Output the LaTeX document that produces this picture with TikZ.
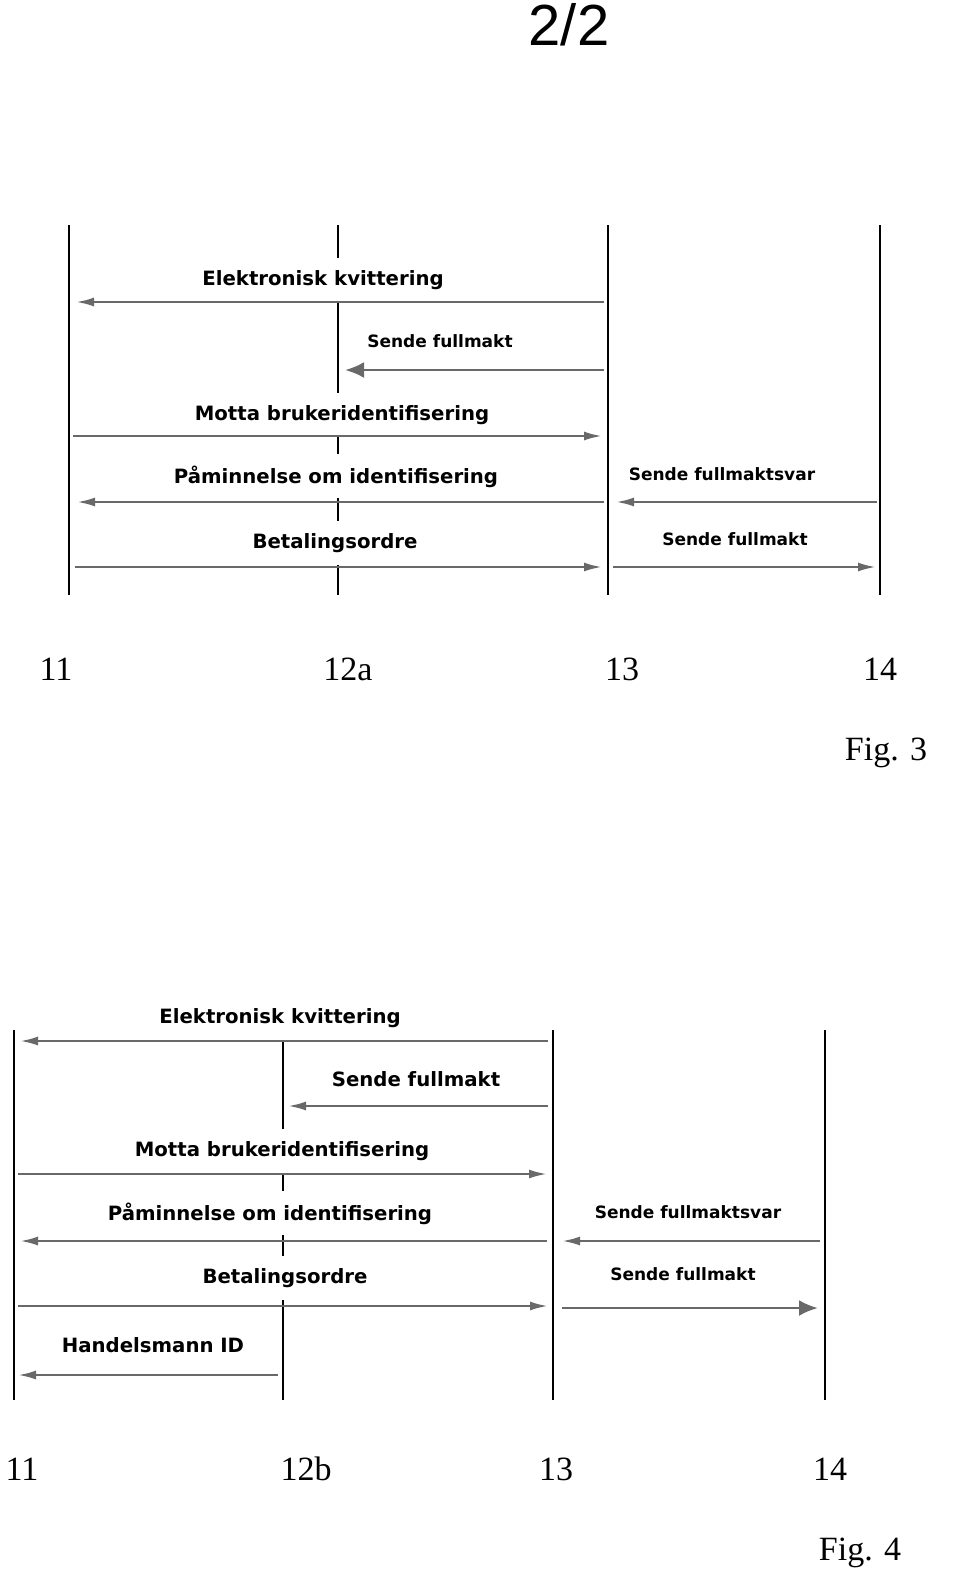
\documentclass[tikz,border=0pt]{standalone}
\usepackage{fontspec}
\setmainfont{Liberation Serif}
\newfontfamily\lblfont{DejaVu Sans}
\newfontfamily\pagefont{Liberation Sans}
\usetikzlibrary{arrows.meta}
\tikzset{>={Latex[length=18pt,width=9pt]}}
\definecolor{msggray}{RGB}{105,105,105}

\begin{document}
\begin{tikzpicture}[x=1pt,y=-1pt,
    lifeline/.style={line width=2.4pt},
    msg/.style={->,msggray,line width=2.4pt},
    bigmsg/.style={-{Latex[length=19pt,width=16pt]},msggray,line width=2.8pt},
    lbl/.style={fill=white,inner sep=0pt,minimum height=44pt,anchor=base,
      font=\lblfont\bfseries\fontsize{19.7}{22}\selectfont},
    lblsmall/.style={lbl,font=\lblfont\bfseries\fontsize{17}{20}\selectfont},
    num/.style={anchor=base,inner sep=0pt,font=\fontsize{34}{40}\selectfont}]
  \useasboundingbox (0,0) rectangle (960,1572);
  % page number
  \node[anchor=base,inner sep=0pt,font=\pagefont\fontsize{58}{66}\selectfont] (page) at (569,45) {2/2};

  % Fig. 3 lifelines
  \coordinate (a11t) at (69,225);  \coordinate (a11b) at (69,595);
  \coordinate (a12t) at (338,225); \coordinate (a12b) at (338,595);
  \coordinate (a13t) at (608,225); \coordinate (a13b) at (608,595);
  \coordinate (a14t) at (880,225); \coordinate (a14b) at (880,595);
  \draw [lifeline] (a11t) -- (a11b);
  \draw [lifeline] (a12t) -- (a12b);
  \draw [lifeline] (a13t) -- (a13b);
  \draw [lifeline] (a14t) -- (a14b);
  % Fig. 3 messages
  \node[lbl] (aek) at (323,285) {Elektronisk kvittering};
  \node[lblsmall] (asf) at (440,347) {Sende fullmakt};
  \node[lbl] (amb) at (342,420) {Motta brukeridentifisering};
  \node[lbl] (api) at (336,483) {Påminnelse om identifisering};
  \node[lbl] (abo) at (335,548) {Betalingsordre};
  \node[lblsmall] (afs) at (722,480) {Sende fullmaktsvar};
  \node[lblsmall] (asf2) at (735,545) {Sende fullmakt};
  \coordinate (aekS) at (604,302); \coordinate (aekE) at (76,302);
  \coordinate (asfS) at (604,370); \coordinate (asfE) at (345,370);
  \coordinate (ambS) at (73,436);  \coordinate (ambE) at (602,436);
  \coordinate (apiS) at (604,502); \coordinate (apiE) at (77,502);
  \coordinate (aboS) at (75,567);  \coordinate (aboE) at (602,567);
  \coordinate (afsS) at (877,502); \coordinate (afsE) at (616,502);
  \coordinate (asf2S) at (613,567); \coordinate (asf2E) at (876,567);
  \draw [msg] (aekS) -- (aekE);
  \draw [bigmsg] (asfS) -- (asfE);
  \draw [msg] (ambS) -- (ambE);
  \draw [msg] (apiS) -- (apiE);
  \draw [msg] (aboS) -- (aboE);
  \draw [msg] (afsS) -- (afsE);
  \draw [msg] (asf2S) -- (asf2E);
  % Fig. 3 numbers
  \node[num] (n11a) at (56,680) {11};
  \node[num] (n12a) at (348,680) {12a};
  \node[num] (n13a) at (622,680) {13};
  \node[num] (n14a) at (880,680) {14};
  \node[num] (fig3) at (886,760) {Fig. 3};

  % Fig. 4 lifelines
  \coordinate (b11t) at (14,1030);  \coordinate (b11b) at (14,1400);
  \coordinate (b12t) at (283,1040); \coordinate (b12b) at (283,1400);
  \coordinate (b13t) at (553,1030); \coordinate (b13b) at (553,1400);
  \coordinate (b14t) at (825,1030); \coordinate (b14b) at (825,1400);
  \draw [lifeline] (b11t) -- (b11b);
  \draw [lifeline] (b12t) -- (b12b);
  \draw [lifeline] (b13t) -- (b13b);
  \draw [lifeline] (b14t) -- (b14b);
  % Fig. 4 messages
  \node[lbl] (bek) at (280,1023) {Elektronisk kvittering};
  \node[lbl] (bsf) at (416,1086) {Sende fullmakt};
  \node[lbl] (bmb) at (282,1156) {Motta brukeridentifisering};
  \node[lbl] (bpi) at (270,1220) {Påminnelse om identifisering};
  \node[lbl] (bbo) at (285,1283) {Betalingsordre};
  \node[lblsmall] (bfs) at (688,1218) {Sende fullmaktsvar};
  \node[lblsmall] (bsf2) at (683,1280) {Sende fullmakt};
  \node[lbl] (bhi) at (153,1352) {Handelsmann ID};
  \coordinate (bekS) at (548,1041); \coordinate (bekE) at (20,1041);
  \coordinate (bsfS) at (548,1106); \coordinate (bsfE) at (288,1106);
  \coordinate (bmbS) at (18,1174);  \coordinate (bmbE) at (547,1174);
  \coordinate (bpiS) at (547,1241); \coordinate (bpiE) at (20,1241);
  \coordinate (bboS) at (18,1306);  \coordinate (bboE) at (548,1306);
  \coordinate (bfsS) at (820,1241); \coordinate (bfsE) at (562,1241);
  \coordinate (bsf2S) at (562,1308); \coordinate (bsf2E) at (818,1308);
  \coordinate (bhiS) at (278,1375); \coordinate (bhiE) at (18,1375);
  \draw [msg] (bekS) -- (bekE);
  \draw [msg] (bsfS) -- (bsfE);
  \draw [msg] (bmbS) -- (bmbE);
  \draw [msg] (bpiS) -- (bpiE);
  \draw [msg] (bboS) -- (bboE);
  \draw [msg] (bfsS) -- (bfsE);
  \draw [bigmsg] (bsf2S) -- (bsf2E);
  \draw [msg] (bhiS) -- (bhiE);
  % Fig. 4 numbers
  \node[num] (n11b) at (22,1480) {11};
  \node[num] (n12b) at (306,1480) {12b};
  \node[num] (n13b) at (556,1480) {13};
  \node[num] (n14b) at (830,1480) {14};
  \node[num] (fig4) at (860,1560) {Fig. 4};
\end{tikzpicture}
\end{document}
